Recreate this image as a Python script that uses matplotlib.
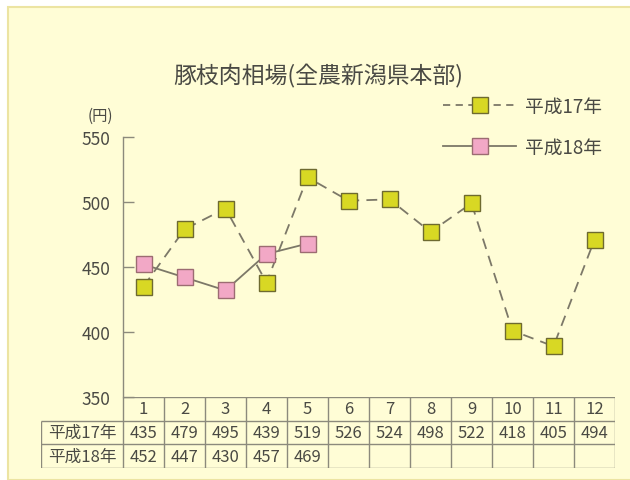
import matplotlib.pyplot as plt
from matplotlib.patches import Rectangle
from matplotlib.lines import Line2D

plt.rcParams['font.family'] = ['Noto Sans CJK JP', 'DejaVu Sans']

# data
months = [1, 2, 3, 4, 5, 6, 7, 8, 9, 10, 11, 12]
# values printed in the table
table_h17 = [435, 479, 495, 439, 519, 526, 524, 498, 522, 418, 405, 494]
table_h18 = [452, 447, 430, 457, 469]
# positions of the markers as drawn in the picture
plot_h17 = [435, 479, 495, 438, 519, 501, 502, 477, 499, 401, 389, 471]
plot_h18 = [452, 442, 432, 460, 468]
yticks = [350, 400, 450, 500, 550]
row_labels = ['平成17年', '平成18年']

W, H = 630, 481
bg = '#fffdd6'
txt = '#4a4a44'
grid = '#8c8a7c'

fig = plt.figure(figsize=(W / 100, H / 100), dpi=100)
fig.patches.append(Rectangle((8 / W, 0), 1, 1 - 8 / H, transform=fig.transFigure,
                             facecolor=bg, edgecolor='#ece4a2', lw=1.5, zorder=-10))

def px(l, t, r, b):
    return [l / W, 1 - b / H, (r - l) / W, (b - t) / H]

ax = fig.add_axes(px(123, 138, 615, 398))
ax.set_facecolor('none')
ax.set_xlim(0.5, 12.5)
ax.set_ylim(350, 550)
for s in ['top', 'right', 'bottom']:
    ax.spines[s].set_visible(False)
ax.spines['left'].set_color(grid)
ax.spines['left'].set_linewidth(1.0)
ax.set_xticks([])
ax.set_yticks(yticks)
ax.tick_params(axis='y', direction='in', length=8, width=1, color=grid,
               labelsize=12.5, labelcolor=txt, pad=9)

ax.plot(months, plot_h17, color='#7c7868', lw=1.3, dashes=(6, 4),
        marker='s', ms=11.5, mfc='#d8d824', mec='#6e6a30', mew=1.0,
        clip_on=False, zorder=3)
ax.plot(months[:len(plot_h18)], plot_h18, color='#7c7868', lw=1.3,
        marker='s', ms=11.5, mfc='#f2a8c6', mec='#9c6c72', mew=1.0,
        clip_on=False, zorder=4)

handles = [
    Line2D([], [], color='#7c7868', lw=1.3, dashes=(4, 3), marker='s', ms=11,
           mfc='#d8d824', mec='#6e6a30'),
    Line2D([], [], color='#7c7868', lw=1.3, marker='s', ms=11,
           mfc='#f2a8c6', mec='#9c6c72'),
]
leg = fig.legend(handles, row_labels, loc='upper left',
                 bbox_to_anchor=(443 / W, 1 - 97 / H), frameon=False,
                 fontsize=13.5, handlelength=3.9, handletextpad=0.45,
                 labelspacing=1.05, borderpad=0, borderaxespad=0)
for t in leg.get_texts():
    t.set_color(txt)

fig.text(318 / W, 1 - 76 / H, '豚枝肉相場(全農新潟県本部)', ha='center', va='center',
         fontsize=16.5, color=txt)
fig.text(100 / W, 1 - 116 / H, '(円)', ha='center', va='center', fontsize=11,
         color=txt)

# table under the plot
tax = fig.add_axes(px(41, 398, 615, 469))
tax.set_facecolor('none')
tax.axis('off')
x0 = 0.5 - (123 - 41) / ((615 - 123) / 12)
tax.set_xlim(x0, 12.5)
tax.set_ylim(3, 0)
tax.hlines(0, 0.5, 12.5, color=grid, lw=1)
tax.hlines([1, 2, 3], x0, 12.5, color=grid, lw=1)
tax.vlines(x0, 1, 3, color=grid, lw=1)
tax.vlines([m - 0.5 for m in months] + [12.5], 0, 3, color=grid, lw=1)
fs = 12
for m in months:
    tax.text(m, 0.5, str(m), ha='center', va='center', fontsize=fs, color=txt)
for m, v in zip(months, table_h17):
    tax.text(m, 1.5, str(v), ha='center', va='center', fontsize=fs, color=txt)
for m, v in zip(months, table_h18):
    tax.text(m, 2.5, str(v), ha='center', va='center', fontsize=fs, color=txt)
for i, lab in enumerate(row_labels):
    tax.text((x0 + 0.5) / 2, 1.5 + i, lab, ha='center', va='center',
             fontsize=fs, color=txt)

fig.savefig('out.png', dpi=100)
